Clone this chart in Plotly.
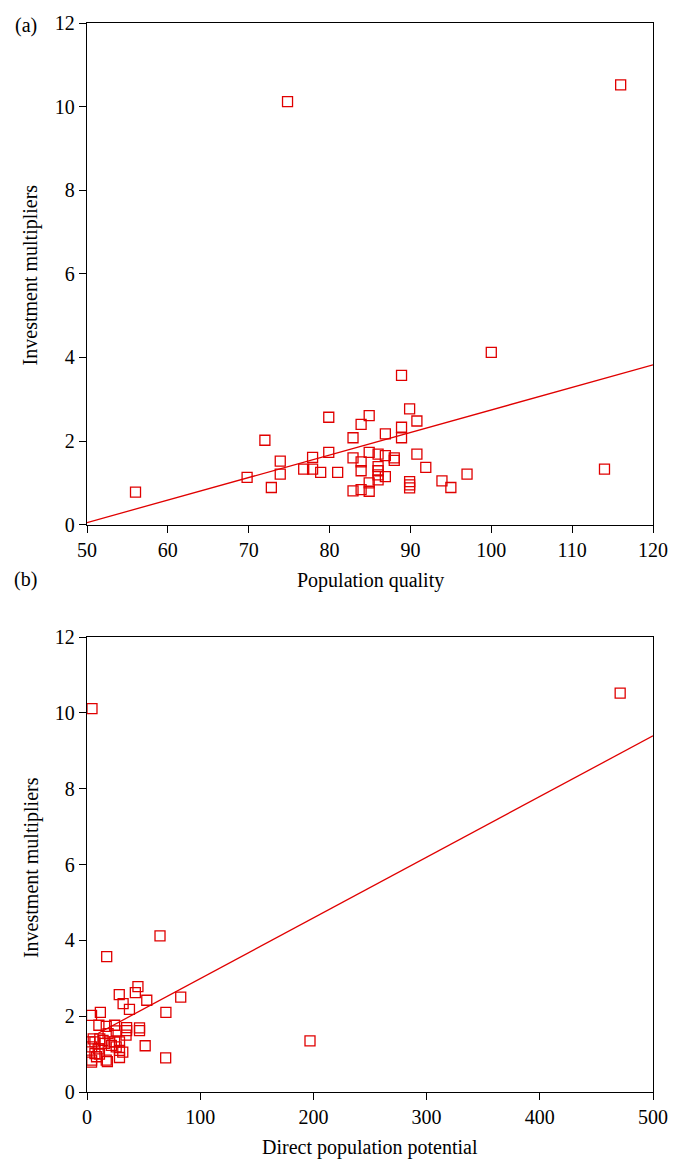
import plotly.graph_objects as go
from plotly.subplots import make_subplots

# Panel (a): population quality vs investment multipliers
quality_x = [74.8, 116, 100, 88.9, 56, 114, 89.9, 90.8, 79.9, 84.9, 83.9, 72.0, 82.9, 86.9,
             88.9, 88.9, 79.9, 84.9, 82.9, 86.0, 86.9, 88.0, 88.0, 90.8, 77.9, 73.9, 73.9,
             76.8, 77.9, 78.9, 81.0, 83.9, 83.9, 86.0, 86.0, 86.0, 86.0, 86.9, 91.9, 97.0,
             69.8, 72.8, 82.9, 83.9, 84.9, 84.9, 89.9, 89.9, 89.9, 93.9, 95.0]
quality_y = [10.12, 10.52, 4.12, 3.57, 0.78, 1.33, 2.77, 2.48, 2.57, 2.61, 2.40, 2.02, 2.08, 2.17,
             2.33, 2.08, 1.73, 1.73, 1.60, 1.69, 1.65, 1.60, 1.54, 1.69, 1.61, 1.52, 1.21,
             1.33, 1.33, 1.25, 1.25, 1.50, 1.29, 1.39, 1.29, 1.19, 1.07, 1.15, 1.37, 1.21,
             1.13, 0.89, 0.81, 0.84, 1.00, 0.80, 1.03, 0.95, 0.88, 1.05, 0.89]

# Panel (b): direct population potential vs investment multipliers
potential_x = [4.4, 471, 197, 64.5, 17.4, 69.5, 82.8, 69.7, 45, 42.7, 28.5, 52.8, 31.9, 37.5,
               11.8, 4.0, 10.5, 17, 24.4, 35, 35, 46.4, 46.4, 25.8, 34.5, 51.4, 5.5, 11.3,
               2.6, 7.0, 14.2, 18.6, 20, 24.4, 28.7, 4.1, 9.9, 15.7, 21.5, 25.8, 28.7, 31.6,
               7, 8.4, 4.1, 17, 28.7, 4, 18, 11]
potential_y = [10.11, 10.52, 1.35, 4.12, 3.57, 0.90, 2.50, 2.10, 2.78, 2.62, 2.57, 2.42, 2.33, 2.18,
               2.10, 2.02, 1.76, 1.73, 1.76, 1.70, 1.62, 1.69, 1.62, 1.61, 1.50, 1.22, 1.40, 1.40,
               1.32, 1.32, 1.36, 1.54, 1.32, 1.32, 1.32, 1.19, 1.14, 1.28, 1.23, 1.19, 1.10, 1.05,
               1.01, 0.93, 0.84, 0.84, 0.91, 0.79, 0.80, 1.00]

# Fitted regression lines
fit_a_slope, fit_a_intercept = 0.0539, -2.645
fit_a_range = [50, 120]
fit_b_slope, fit_b_intercept = 0.01601, 1.39
fit_b_range = [10, 500]

x_ticks_a = [50, 60, 70, 80, 90, 100, 110, 120]
x_ticks_b = [0, 100, 200, 300, 400, 500]
y_ticks = [0, 2, 4, 6, 8, 10, 12]

RED = "#e00000"
FONT = "Liberation Serif, Times New Roman, serif"

fig = make_subplots(rows=2, cols=1)

marker = dict(symbol="square-open", size=10, color=RED, line=dict(width=1.3, color=RED))

fig.add_trace(go.Scatter(x=quality_x, y=quality_y, mode="markers", marker=marker,
                         showlegend=False), row=1, col=1)
fig.add_trace(go.Scatter(x=fit_a_range,
                         y=[fit_a_slope * v + fit_a_intercept for v in fit_a_range],
                         mode="lines", line=dict(color=RED, width=1.3), showlegend=False),
              row=1, col=1)
fig.add_trace(go.Scatter(x=potential_x, y=potential_y, mode="markers", marker=marker,
                         showlegend=False), row=2, col=1)
fig.add_trace(go.Scatter(x=fit_b_range,
                         y=[fit_b_slope * v + fit_b_intercept for v in fit_b_range],
                         mode="lines", line=dict(color=RED, width=1.3), showlegend=False),
              row=2, col=1)

axis_common = dict(showline=True, linecolor="black", linewidth=1.3, mirror=True,
                   ticks="outside", ticklen=7, tickwidth=1.3, tickcolor="black",
                   showgrid=False, zeroline=False, ticklabeloverflow="allow",
                   tickfont=dict(family=FONT, size=20, color="black"))

fig.update_xaxes(**axis_common)
fig.update_yaxes(**axis_common)

H = 1163 - 17 - 71.0
def yp(py):
    return (1092 - py) / H

fig.update_layout(
    xaxis=dict(domain=[0, 1], range=[50, 120], tickvals=x_ticks_a),
    yaxis=dict(domain=[yp(521.5), 1.0], range=[0, 12], tickvals=y_ticks),
    xaxis2=dict(domain=[0, 1], range=[0, 500], tickvals=x_ticks_b),
    yaxis2=dict(domain=[0.0, yp(634.5)], range=[0, 12], tickvals=y_ticks),
)

W = 680 - 87 - 19.0
def xp(px):
    return (px - 87) / W

annotations = [
    dict(text="Population quality", x=0.5, y=yp(578)),
    dict(text="Direct population potential", x=0.5, y=yp(1148)),
    dict(text="Investment multipliers", x=xp(30), y=yp(270), textangle=-90),
    dict(text="Investment multipliers", x=xp(30), y=yp(866), textangle=-90),
    dict(text="(a)", x=xp(25), y=yp(20)),
    dict(text="(b)", x=xp(25), y=yp(577)),
]
for a in annotations:
    a.update(xref="paper", yref="paper", showarrow=False, xanchor="center",
             yanchor="middle", font=dict(family=FONT, size=20, color="black"))

fig.update_layout(
    width=680, height=1163,
    margin=dict(l=87, r=19, t=17, b=71),
    paper_bgcolor="white", plot_bgcolor="white",
    annotations=annotations,
)

fig.write_html("out.html")
